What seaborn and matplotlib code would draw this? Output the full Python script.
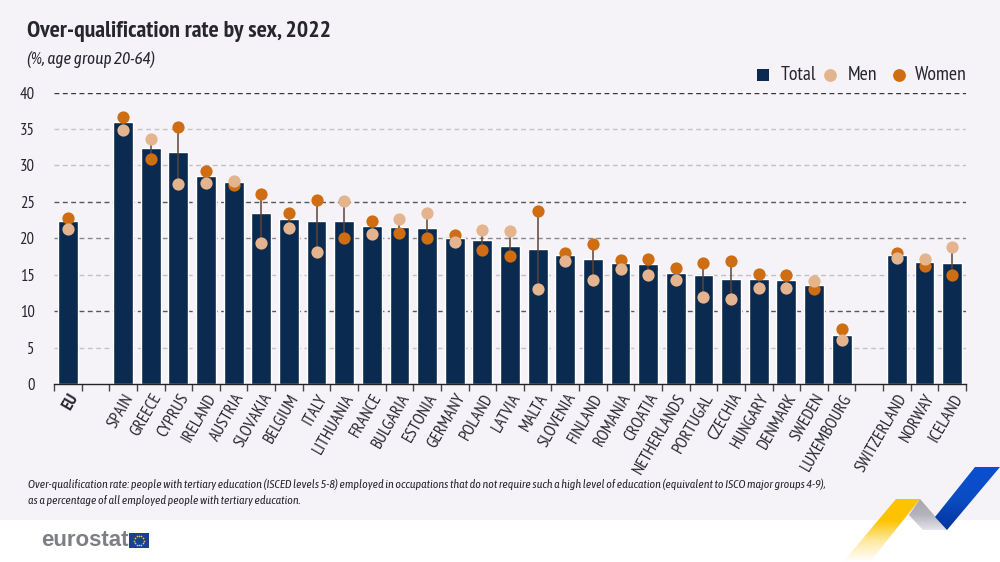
# plot.py
import numpy as np
import pandas as pd
import matplotlib
matplotlib.use("Agg")
import matplotlib.pyplot as plt
from matplotlib.colors import LinearSegmentedColormap
from matplotlib.patches import Polygon, Rectangle
import seaborn as sns

# -------------------------------
# Data (blank slots separate EU / EU members / EFTA)
# -------------------------------
countries = ["EU", " ", "SPAIN", "GREECE", "CYPRUS", "IRELAND", "AUSTRIA", "SLOVAKIA", "BELGIUM",
             "ITALY", "LITHUANIA", "FRANCE", "BULGARIA", "ESTONIA", "GERMANY", "POLAND", "LATVIA",
             "MALTA", "SLOVENIA", "FINLAND", "ROMANIA", "CROATIA", "NETHERLANDS", "PORTUGAL",
             "CZECHIA", "HUNGARY", "DENMARK", "SWEDEN", "LUXEMBOURG", "  ", "SWITZERLAND",
             "NORWAY", "ICELAND"]
total = [22.3, None, 36.0, 32.4, 31.8, 28.5, 27.7, 23.4, 22.6, 22.3, 22.3, 21.7, 21.6, 21.4, 20.1, 19.8,
         18.9, 18.5, 17.7, 17.2, 16.6, 16.4, 15.2, 15.0, 14.4, 14.4, 14.3, 13.6, 6.7, None, 17.7, 16.8, 16.6]
men = [21.3, None, 34.8, 33.6, 27.4, 27.6, 27.8, 19.4, 21.4, 18.1, 25.1, 20.6, 22.6, 23.5, 19.5, 21.2,
       21.0, 13.0, 16.9, 14.3, 15.8, 15.0, 14.3, 11.9, 11.6, 13.2, 13.2, 14.2, 6.0, None, 17.3, 17.2, 18.8]
women = [22.8, None, 36.7, 30.9, 35.3, 29.2, 27.3, 26.1, 23.5, 25.3, 20.0, 22.4, 20.7, 20.0, 20.4, 18.4,
         17.5, 23.8, 18.0, 19.2, 17.0, 17.1, 15.9, 16.6, 16.9, 15.1, 15.0, 13.0, 7.5, None, 18.0, 16.2, 14.9]
y_ticks = [0, 5, 10, 15, 20, 25, 30, 35, 40]

NAVY = "#0b2a4f"
LIGHT = "#e3b48d"
ORANGE = "#cf6d12"
BG = "#f5f3f7"
TEXT = "#26262e"
DOT = 8.8
ITALIC = ['Asap Condensed', 'PT Sans Narrow', 'Lato', 'DejaVu Sans']

sns.set_theme(style="white")
plt.rcParams['font.family'] = ['PT Sans Narrow', 'Asap Condensed', 'Lato', 'DejaVu Sans']

df = pd.DataFrame({"country": countries, "total": total, "men": men, "women": women})
df[["total", "men", "women"]] = df[["total", "men", "women"]].astype(float)

fig = plt.figure(figsize=(10, 5.62), dpi=100, facecolor="white")

# Page background and footer band
fig.patches.append(Rectangle((0, 42 / 562), 1, 520 / 562, transform=fig.transFigure,
                             facecolor=BG, edgecolor="none", zorder=-10))

ax = fig.add_axes([0.054, 1 - 384 / 562, 0.912, 291.5 / 562])
ax.set_facecolor("none")

sns.barplot(data=df, x="country", y="total", order=countries, color=NAVY, width=0.72,
            saturation=1, ax=ax, zorder=2)

# Men - women connectors
ax.vlines(df["country"], df["men"], df["women"], color="#5d4437", linewidth=1.1, zorder=3)

# women first, men sit on top where they overlap
sns.stripplot(data=df, x="country", y="women", order=countries, color=ORANGE, size=DOT, jitter=False,
              ax=ax, zorder=4)
sns.stripplot(data=df, x="country", y="men", order=countries, color=LIGHT, size=DOT, jitter=False,
              ax=ax, zorder=5)

ax.set_xlim(-0.5, len(countries) - 0.5)
ax.set_ylim(0, 40)
ax.set_xlabel("")
ax.set_ylabel("")
ax.set_yticks(y_ticks)
ax.set_yticklabels([str(v) for v in y_ticks], fontsize=12, color=TEXT)
ax.tick_params(axis="y", length=0, pad=14)

# Grid: dashed, uneven greys as in the reference
ax.grid(axis="y", linestyle=(0, (3.5, 2.5)), linewidth=1, zorder=0)
ax.set_axisbelow(True)
grid_cols = ["none", "#c4c4c8", "#55555a", "#c0c0c4", "#88888c", "#55555a", "#c0c0c4", "#c4c4c8", "#333338"]
for line, col in zip(ax.get_ygridlines(), grid_cols):
    line.set_color(col)

for side in ["top", "left", "right"]:
    ax.spines[side].set_visible(False)
ax.spines["bottom"].set_color("#222222")
ax.spines["bottom"].set_linewidth(1)

# Tick marks between categories, labels centred on categories
ax.set_xticks(np.arange(len(countries) + 1) - 0.5, minor=True)
ax.tick_params(axis="x", which="minor", length=5, width=1, color="#444444", bottom=True)
ax.set_xticks(range(len(countries)))
ax.set_xticklabels(countries, rotation=60, ha="right", rotation_mode="anchor", fontsize=12.3, color=TEXT)
ax.tick_params(axis="x", which="major", length=0, pad=5)
ax.get_xticklabels()[0].set_fontweight("bold")

# Title block
fig.text(0.027, 1 - 32 / 562, "Over-qualification rate by sex, 2022", fontsize=17.2, fontweight="bold",
         color=TEXT, va="center")
fig.text(0.027, 1 - 60 / 562, "(%, age group 20-64)", fontsize=12.4, style="italic", color=TEXT, va="center",
         family=ITALIC)

# Overlay in pixel coordinates for legend, footer and ribbon
lax = fig.add_axes([0, 0, 1, 1], facecolor="none")
lax.set_xlim(0, 1000)
lax.set_ylim(562, 0)
lax.axis("off")
lax.scatter([763], [74.5], marker="s", s=78, color=NAVY, linewidths=0)
lax.scatter([830], [74.5], marker="o", s=85, color=LIGHT, linewidths=0)
lax.scatter([899], [74.5], marker="o", s=85, color=ORANGE, linewidths=0)
for x, label in [(781, "Total"), (848, "Men"), (915, "Women")]:
    lax.text(x, 74.5, label, fontsize=14.3, color=TEXT, va="center")

# Footnote
lax.text(28, 484, "Over-qualification rate: people with tertiary education (ISCED levels 5-8) employed in occupations "
         "that do not require such a high level of education (equivalent to ISCO major groups 4-9),",
         fontsize=8.55, style="italic", color=TEXT, va="center", family=ITALIC)
lax.text(28, 500, "as a percentage of all employed people with tertiary education.",
         fontsize=8.55, style="italic", color=TEXT, va="center", family=ITALIC)

# Logo
lax.text(41, 541, "eurostat", fontsize=16, fontweight="bold", color="#7d7f85", va="center",
         family=["Liberation Sans", "DejaVu Sans"])
lax.add_patch(Rectangle((129, 533), 20, 15, facecolor="#1c3f94", edgecolor="none"))
t = np.linspace(0, 2 * np.pi, 12, endpoint=False)
lax.scatter(139 + 4.8 * np.cos(t), 540.5 + 4.8 * np.sin(t), s=1.5, color="#ffcc00", linewidths=0)


def ribbon(points, colors):
    # vertical gradient clipped to the polygon
    ys = [p[1] for p in points]
    xs = [p[0] for p in points]
    cmap = LinearSegmentedColormap.from_list("r", colors)
    img = lax.imshow(np.linspace(0, 1, 64).reshape(-1, 1), cmap=cmap, aspect="auto",
                     extent=(min(xs), max(xs), max(ys), min(ys)), zorder=6)
    patch = Polygon(points, transform=lax.transData, facecolor="none", edgecolor="none")
    lax.add_patch(patch)
    img.set_clip_path(patch)


ribbon([(896, 499), (920, 499), (870, 562), (843, 562)], ["#fdc300", "#fdc300", "#fee9a0", "#ffffff"])
ribbon([(920, 499), (947, 530), (923, 530), (909, 515)], ["#a9a8b0", "#b4b3bb", "#e4e3ea"])
ribbon([(975, 467), (1000, 467), (947, 530), (935, 517)], ["#0b4fd0", "#0b4cc4", "#04349c"])
lax.set_xlim(0, 1000)
lax.set_ylim(562, 0)

fig.savefig("out.png", dpi=100, facecolor=fig.get_facecolor())
